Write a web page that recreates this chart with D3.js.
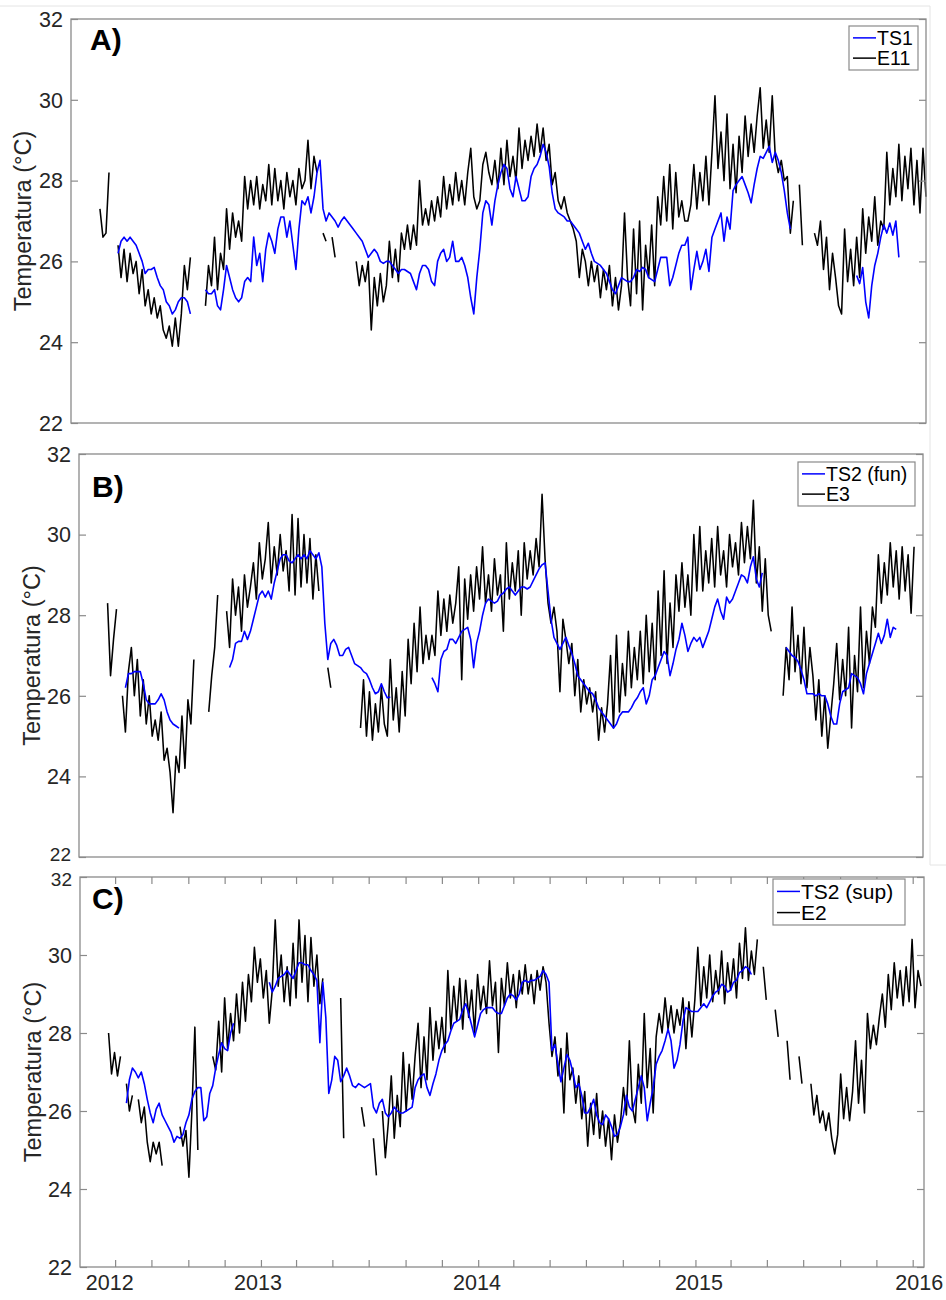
<!DOCTYPE html>
<html>
<head>
<meta charset="utf-8">
<script src="https://cdn.jsdelivr.net/npm/d3@7"></script>
<style>
  html, body { margin: 0; padding: 0; background: #fff; }
  svg { display: block; font-family: "Liberation Sans", Arial, Helvetica, sans-serif; }
</style>
</head>
<body>
<svg id="chart" width="946" height="1300"></svg>
<script>
// Daily-averaged temperature records, one value every STEP_DAYS from SERIES_START; null = no data
const SERIES_START = "2012-04-20";
const STEP_DAYS = 5;
const TIME_DOMAIN = ["2012-03-03", "2016-01-20"];
const gap = n => Array(n).fill(null);

// Panel A: station E11 and satellite series TS1
const e11 = [27.3,26.6,26.7,28.2,null,null,26.4,25.6,26.3,25.5,
  26.2,25.7,26.0,25.2,25.8,24.9,25.3,24.7,25.1,24.6,
  24.9,24.3,24.1,24.4,23.9,24.6,23.9,24.7,25.9,25.3,
  26.1,null,null,null,null,24.9,25.9,25.4,26.6,25.3,
  26.2,25.8,27.3,26.3,27.2,26.6,27.0,26.5,28.1,27.3,
  28.0,27.4,28.1,27.3,27.9,27.5,28.4,27.4,28.3,27.5,
  28.0,27.3,28.2,27.6,28.0,27.4,28.3,27.8,28.0,29.0,
  27.8,28.6,28.2,null,26.7,26.5,null,26.6,26.1,null,
  null,null,null,null,null,26.0,25.4,25.9,25.5,26.0,
  24.3,25.6,24.9,25.7,25.0,25.4,26.5,25.6,26.3,25.5,
  26.7,26.3,26.9,26.3,26.9,26.4,28.0,26.9,27.3,26.9,
  27.5,27.0,27.6,27.1,28.1,27.3,27.9,27.4,28.2,27.5,
  28.0,27.4,28.2,28.8,27.6,27.3,27.5,28.4,28.7,28.2,
  27.9,28.5,27.8,28.8,27.9,29.0,28.1,28.6,28.0,29.3,
  28.3,29.0,28.5,29.1,28.6,29.4,28.7,29.3,28.5,28.9,
  27.9,28.2,27.5,27.3,27.6,27.2,27.0,26.8,26.5,25.6,
  26.3,26.0,25.4,26.0,25.5,25.9,25.1,25.8,25.3,25.9,
  24.9,25.6,24.8,25.4,27.2,25.6,24.9,26.8,25.2,27.0,
  24.8,26.4,25.6,26.9,25.4,27.6,26.9,28.1,27.0,28.4,
  26.8,28.2,27.1,27.5,27.0,27.0,27.4,28.4,27.3,28.2,
  27.5,28.6,27.4,28.7,30.1,28.3,29.2,28.0,29.65,27.8,
  28.9,27.7,29.1,28.2,29.6,28.6,29.4,28.7,29.6,30.3,
  28.8,29.5,28.7,30.1,28.6,28.2,28.5,28.0,28.1,26.7,
  27.5,null,27.9,26.4,null,null,null,26.7,26.4,27.0,
  25.8,26.6,25.3,26.2,25.6,24.9,24.7,26.8,25.5,26.3,
  25.4,26.6,25.6,27.3,26.2,27.1,26.5,27.6,26.4,27.0,
  26.8,28.7,27.4,28.3,27.6,28.9,27.5,28.6,27.8,28.8,
  27.4,28.5,27.2,28.8,27.6];

const ts1 = [...gap(6),26.2,26.5,26.6,26.5,
  26.6,26.5,26.4,26.2,26.0,25.7,25.8,25.8,25.85,25.6,
  25.4,25.3,25.0,24.9,24.7,24.8,25.0,25.1,25.1,25.0,
  24.7,null,null,null,null,25.3,25.2,25.2,25.3,24.9,
  24.8,25.3,25.9,25.6,25.3,25.1,25.0,25.1,25.5,25.6,
  25.5,26.6,25.9,26.2,25.5,26.3,26.7,26.5,26.2,26.8,
  27.1,27.1,26.6,27.0,26.4,25.8,26.8,27.5,27.4,27.6,
  27.2,27.6,28.2,28.5,27.3,27.0,27.2,27.1,27.0,26.85,
  27.0,27.1,27.0,26.9,26.8,26.7,26.6,26.5,26.3,26.1,
  26.2,26.3,26.2,26.0,25.95,26.0,26.0,25.9,25.8,25.7,
  25.8,25.8,25.75,25.7,25.5,25.3,25.7,25.9,25.9,25.8,
  25.5,25.4,26.0,26.2,26.3,26.0,26.1,26.5,26.0,26.0,
  26.1,25.9,25.6,25.1,24.7,25.6,26.3,27.2,27.5,27.4,
  26.9,27.5,27.9,28.2,28.4,28.3,27.8,27.6,28.1,27.8,
  27.5,27.5,27.6,28.1,28.3,28.4,28.6,28.9,28.7,28.35,
  27.7,27.3,27.2,27.15,27.1,27.0,27.0,26.9,26.8,26.7,
  26.5,26.3,26.45,26.2,26.0,25.95,25.9,25.8,25.7,25.5,
  25.3,25.2,25.4,25.6,25.55,25.5,25.5,25.6,25.8,25.75,
  25.85,25.8,25.6,25.55,25.5,25.8,26.1,26.1,26.1,25.4,
  25.6,25.9,26.2,26.4,26.4,26.6,25.3,25.8,26.25,25.8,
  26.0,26.3,25.75,26.6,26.8,27.0,27.2,26.5,27.1,26.8,
  27.75,27.9,28.0,28.1,27.9,27.7,27.45,27.9,28.3,28.6,
  28.55,28.7,28.85,28.45,28.7,28.5,28.2,27.75,27.2,26.8,
  ...gap(21),25.65,25.45,25.85,25.0,24.6,25.4,25.9,26.2,26.6,
  26.9,26.7,26.95,26.65,27.0,26.1];

// Panel B: station E3 and bottom satellite series TS2 (fun)
const e3 = [28.3,26.5,27.4,28.15,null,26.0,25.1,26.6,27.2,26.0,
  26.9,25.5,26.4,25.3,26.0,25.0,25.4,24.9,25.6,24.4,
  24.7,24.1,23.1,24.5,24.1,25.5,24.2,25.9,25.3,26.9,
  null,null,null,null,25.6,26.5,27.2,28.5,null,null,
  28.1,27.2,28.9,28.0,28.7,27.6,29.0,28.2,28.7,29.3,
  28.4,29.8,28.9,29.4,30.3,28.8,29.7,29.0,30.0,29.1,
  29.6,28.6,30.5,28.5,30.4,28.7,30.0,28.8,29.9,28.4,
  29.5,28.6,null,null,26.7,26.2,...gap(9),
  25.2,26.4,25.0,26.1,24.9,
  25.8,25.1,26.2,25.3,25.0,26.9,25.4,26.2,25.1,26.6,
  25.5,27.4,26.3,27.8,26.6,28.2,26.8,27.5,26.9,27.5,
  27.0,28.6,27.5,28.4,27.6,28.5,27.8,28.3,29.2,26.4,
  28.9,27.9,29.0,28.1,29.2,28.4,29.7,28.3,29.0,28.1,
  29.4,28.5,29.0,27.6,29.8,28.4,29.3,28.6,29.6,28.0,
  29.8,28.9,29.6,29.0,29.9,29.2,31.0,29.4,28.3,27.8,
  28.2,27.6,26.1,27.9,27.4,26.8,27.3,26.0,26.9,25.6,
  26.4,25.8,26.2,25.6,26.1,24.9,25.7,25.1,25.8,27.0,
  25.2,27.5,25.6,26.8,26.0,27.6,26.2,27.2,26.4,27.6,
  26.3,28.0,26.6,27.8,26.4,28.6,27.0,29.1,26.8,28.3,
  27.2,29.0,28.1,29.3,28.2,29.0,28.0,30.0,28.6,30.2,
  28.6,29.6,28.8,29.9,28.7,30.2,29.0,29.6,28.7,30.0,
  29.2,29.8,29.0,30.3,29.3,30.2,29.4,30.85,28.8,29.7,
  28.1,29.4,28.0,27.6,null,null,null,26.0,27.2,26.4,
  28.2,26.6,27.5,26.3,27.7,26.2,27.2,26.5,25.4,26.4,
  25.0,26.0,24.7,25.5,26.3,27.3,25.9,26.9,26.0,27.7,
  25.2,27.0,26.1,28.2,26.2,27.6,26.8,28.2,27.7,29.5,
  28.3,29.3,28.5,29.8,28.7,29.6,28.4,29.7,28.6,29.5,
  28.05,29.7];

const ts2fun = [...gap(6),26.2,26.55,26.55,26.6,
  26.6,26.6,26.3,25.9,25.8,25.8,25.8,25.9,26.05,25.9,
  25.6,25.4,25.3,25.25,25.2,...gap(16),
  26.7,26.9,27.3,27.35,27.35,27.6,27.4,27.6,27.9,
  28.2,28.5,28.6,28.45,28.6,28.4,28.8,29.1,29.4,29.5,
  29.5,29.35,29.3,29.4,29.5,29.4,29.5,29.4,29.6,29.5,
  29.4,29.55,29.2,27.8,26.9,27.3,27.4,27.25,27.0,27.0,
  27.15,27.2,27.0,26.8,26.75,26.7,26.6,26.55,26.4,26.2,
  26.05,26.1,26.3,26.1,25.95,25.97,...gap(13),
  26.45,
  26.3,26.1,26.9,27.1,27.15,27.4,27.4,27.3,27.45,27.6,
  27.65,27.7,27.4,26.7,27.3,27.6,28.0,28.3,28.4,28.35,
  28.3,28.35,28.5,28.55,28.65,28.7,28.6,28.5,28.6,28.7,
  28.7,28.65,28.7,28.85,29.0,29.15,29.25,29.3,28.6,27.9,
  27.45,27.3,27.15,27.3,27.45,27.25,27.05,26.8,26.5,26.4,
  26.3,26.2,26.1,26.05,25.9,25.7,25.6,25.5,25.4,25.3,
  25.2,25.3,25.5,25.6,25.6,25.6,25.7,25.85,25.95,26.1,
  26.2,25.8,26.0,26.4,26.5,26.7,26.9,27.1,27.0,26.5,
  26.8,27.15,27.4,27.8,27.5,27.1,27.3,27.45,27.35,27.45,
  27.2,27.4,27.6,27.9,28.2,28.4,28.1,27.9,28.45,28.3,
  28.4,28.6,28.8,29.0,28.95,28.8,29.2,29.45,28.9,28.7,
  29.05,...gap(7),27.2,27.1,
  27.0,26.95,26.85,26.65,26.4,26.05,26.05,26.05,26.0,26.05,
  26.0,26.0,25.8,25.5,25.3,25.3,25.8,26.1,26.15,26.2,
  26.55,26.5,26.45,26.3,26.05,26.55,26.8,27.05,27.3,27.55,
  27.3,27.5,27.9,27.45,27.7,27.65];

// Panel C: station E2 and surface satellite series TS2 (sup)
const e2 = [28.0,26.95,27.5,26.9,27.4,null,26.7,26.0,26.4,null,
  26.3,25.7,26.1,25.2,24.7,25.2,24.9,25.2,24.6,null,
  null,null,null,null,25.6,25.1,25.5,24.3,26.0,28.15,
  25.0,null,null,null,null,27.4,27.05,28.3,27.0,28.9,
  27.6,28.5,27.8,29.0,28.0,29.3,28.3,29.5,28.8,30.2,
  29.3,29.9,28.9,29.6,28.25,29.1,30.9,29.2,30.0,28.8,
  29.7,28.7,30.3,28.9,30.9,29.3,30.5,28.8,30.45,29.2,
  30.0,28.75,29.4,null,null,null,null,null,28.9,25.3,
  null,null,null,null,null,26.1,25.6,null,null,25.3,
  24.35,null,26.0,24.8,25.7,26.9,25.3,26.4,25.6,27.5,
  26.0,27.2,26.3,27.4,28.25,26.6,27.9,26.8,28.65,27.3,
  28.3,27.6,28.4,27.5,29.6,28.1,29.2,28.3,29.4,28.1,
  29.35,28.4,29.1,28.0,29.5,28.6,29.2,28.5,29.85,28.7,
  29.3,27.5,29.4,28.7,29.8,28.9,29.5,28.65,29.6,29.0,
  29.75,29.0,29.5,28.75,29.6,29.1,29.7,29.3,28.25,27.4,
  27.9,26.9,27.6,25.95,28.0,26.8,27.1,26.2,26.9,25.8,
  26.5,25.1,26.2,25.4,26.45,25.3,26.0,25.1,25.8,24.75,
  25.9,25.2,25.7,26.6,25.9,27.8,26.1,25.7,27.2,26.2,
  28.5,26.6,27.6,25.95,27.9,28.5,28.0,28.9,28.1,28.7,
  28.0,28.6,28.2,28.9,27.6,28.8,27.9,28.85,30.2,28.7,
  29.7,28.9,30.0,28.8,29.6,29.0,30.1,28.75,29.8,29.1,
  29.9,28.9,30.3,29.4,30.7,29.35,30.1,29.5,30.4,null,
  29.7,28.85,null,null,28.6,27.9,null,null,27.8,26.8,
  null,null,27.4,26.7,null,null,26.7,25.9,26.4,25.7,
  26.0,25.5,25.95,25.3,24.9,25.4,26.95,25.8,26.6,25.75,
  26.5,27.8,26.2,27.3,25.95,28.5,27.6,28.2,27.7,28.4,
  29.0,28.15,29.5,28.6,29.8,28.9,29.6,28.7,29.7,28.8,
  30.4,28.65,29.6,29.2];

const ts2sup = [...gap(6),26.2,26.8,27.1,27.0,
  26.85,27.0,26.7,26.3,25.95,25.7,26.05,26.2,25.9,25.75,
  25.6,25.45,25.2,25.35,25.3,25.4,25.7,25.9,26.3,26.5,
  26.6,26.6,25.75,25.85,26.45,26.65,27.1,27.45,27.75,27.6,
  27.55,28.0,28.25,...gap(11),
  29.3,29.05,29.2,29.4,29.45,29.5,
  29.6,29.5,29.4,29.6,29.8,29.8,29.75,29.75,29.6,29.5,
  29.35,27.75,29.3,28.4,26.45,26.8,27.4,27.3,26.75,26.9,
  27.1,26.9,26.65,26.6,26.7,26.65,26.6,26.65,26.7,26.1,
  25.95,26.2,26.3,25.95,25.85,25.95,26.1,26.0,25.95,25.95,
  26.0,26.05,26.1,26.6,26.8,26.9,26.95,26.6,26.4,26.7,
  26.95,27.3,27.55,27.7,27.8,28.05,28.25,28.3,28.35,28.6,
  28.75,28.5,28.2,27.9,28.2,28.5,28.6,28.65,28.65,28.65,
  28.55,28.5,28.5,28.7,28.9,29.0,28.95,28.85,29.0,29.3,
  29.35,29.3,29.35,29.35,29.4,29.45,29.6,29.5,29.3,27.55,
  27.7,27.2,26.75,27.1,27.45,27.3,27.0,26.6,26.7,26.4,
  25.95,25.95,26.1,26.3,25.9,25.7,25.65,25.9,25.8,25.6,
  25.35,25.4,25.6,25.9,26.4,26.1,26.0,26.3,26.6,26.9,
  26.6,25.75,26.2,26.6,27.2,27.4,27.55,27.8,28.1,27.8,
  27.1,27.3,27.7,28.3,28.65,28.6,28.55,28.55,28.55,28.65,
  28.75,28.65,28.8,28.95,29.05,29.1,29.25,29.2,29.05,29.1,
  29.3,29.35,29.55,29.6,29.7,29.65,29.5];

// Axis ticks and labels
const yTicks = [22, 24, 26, 28, 30, 32];
const yearLabels = ["2012", "2013", "2014", "2015", "2016"];
const yearLabelDates = ["2012-04-22", "2012-12-27", "2013-12-30", "2015-01-07", "2016-01-12"];
const yTitle = "Temperatura (°C)";

const parse = d3.utcParse("%Y-%m-%d");
const start = parse(SERIES_START);
const toPoints = arr => arr.map((v, i) => ({ date: d3.utcDay.offset(start, i * STEP_DAYS), value: v }));

const BLUE = "#0000ff";
const BLACK = "#000000";
const FRAME = "#8a8a8a";
const TEXT = "#262626";

// labelTweak: panels are stacked tightly, so the touching end labels are set a little smaller
const panels = [
  { tag: "A)", names: ["TS1", "E11"], blue: ts1, black: e11,
    frame: { left: 71, right: 926, top: 19, bottom: 423 },
    tagPos: [90, 50], titleX: 23, labelTweak: {},
    legend: { x: 849, y: 26, w: 69, h: 44, font: 19.5 }, xAxis: false },
  { tag: "B)", names: ["TS2 (fun)", "E3"], blue: ts2fun, black: e3,
    frame: { left: 79, right: 923, top: 454, bottom: 857 },
    tagPos: [92, 497], titleX: 32, labelTweak: { 22: { dy: -2.5, size: 19 } },
    legend: { x: 798, y: 462, w: 117, h: 44, font: 19.5 }, xAxis: false },
  { tag: "C)", names: ["TS2 (sup)", "E2"], blue: ts2sup, black: e2,
    frame: { left: 80, right: 924, top: 877, bottom: 1267 },
    tagPos: [92, 909], titleX: 33, labelTweak: { 32: { dy: 2, size: 19 } },
    legend: { x: 773, y: 879, w: 132, h: 46, font: 21 }, xAxis: true }
];

const svg = d3.select("#chart");
svg.append("rect").attr("width", 946).attr("height", 1300).attr("fill", "#fff");

// faint outline of the upper figure sheet
svg.append("path")
  .attr("d", "M0,6H930V865H946")
  .attr("fill", "none").attr("stroke", "#e4e4e4").attr("stroke-width", 1);

const domain = TIME_DOMAIN.map(parse);

panels.forEach(p => {
  const f = p.frame;
  const x = d3.scaleUtc().domain(domain).range([f.left, f.right]);
  const y = d3.scaleLinear().domain([22, 32]).range([f.bottom, f.top]);
  const g = svg.append("g");

  const line = d3.line()
    .defined(d => d.value != null)
    .x(d => x(d.date))
    .y(d => y(d.value));

  g.append("path").datum(toPoints(p.black))
    .attr("d", line).attr("fill", "none")
    .attr("stroke", BLACK).attr("stroke-width", 1.55).attr("stroke-linejoin", "round");
  g.append("path").datum(toPoints(p.blue))
    .attr("d", line).attr("fill", "none")
    .attr("stroke", BLUE).attr("stroke-width", 1.6).attr("stroke-linejoin", "round");

  // frame
  g.append("rect")
    .attr("x", f.left).attr("y", f.top)
    .attr("width", f.right - f.left).attr("height", f.bottom - f.top)
    .attr("fill", "none").attr("stroke", FRAME).attr("stroke-width", 1.3);

  // y ticks (inward on both sides) and labels
  const yAxisL = d3.axisLeft(y).tickValues(yTicks).tickSize(-7).tickFormat("");
  const yAxisR = d3.axisRight(y).tickValues(yTicks).tickSize(-7).tickFormat("");
  [g.append("g").attr("transform", `translate(${f.left},0)`).call(yAxisL),
   g.append("g").attr("transform", `translate(${f.right},0)`).call(yAxisR)].forEach(a => {
    a.select(".domain").remove();
    a.selectAll("line").attr("stroke", FRAME).attr("stroke-width", 1.2);
  });
  g.selectAll(".ylab").data(yTicks).join("text")
    .attr("x", f.left - 8)
    .attr("y", d => y(d) + ((p.labelTweak[d] || {}).dy || 0))
    .attr("dy", "0.36em")
    .attr("text-anchor", "end")
    .attr("font-size", d => (p.labelTweak[d] || {}).size || 21.5)
    .attr("fill", TEXT)
    .text(d => d);

  // y title
  const cy = (f.top + f.bottom) / 2;
  g.append("text")
    .attr("transform", `translate(${p.titleX},${cy}) rotate(-90)`)
    .attr("text-anchor", "middle").attr("dy", "0.36em")
    .attr("font-size", 23.5).attr("fill", TEXT)
    .text(yTitle);

  // panel tag
  g.append("text").attr("x", p.tagPos[0]).attr("y", p.tagPos[1])
    .attr("font-size", 30).attr("font-weight", "bold").attr("fill", BLACK)
    .text(p.tag);

  // x axis with two-month ticks, only on the lowest panel
  if (p.xAxis) {
    const tickMonths = d3.utcMonth.every(2);
    const xb = d3.axisBottom(x).ticks(tickMonths).tickSize(-7).tickFormat("");
    const xt = d3.axisTop(x).ticks(tickMonths).tickSize(-7).tickFormat("");
    [g.append("g").attr("transform", `translate(0,${f.bottom})`).call(xb),
     g.append("g").attr("transform", `translate(0,${f.top})`).call(xt)].forEach(a => {
      a.select(".domain").remove();
      a.selectAll("line").attr("stroke", FRAME).attr("stroke-width", 1.2);
    });
    g.selectAll(".xlab").data(yearLabels).join("text")
      .attr("x", (d, i) => x(parse(yearLabelDates[i])))
      .attr("y", 1290)
      .attr("text-anchor", "middle").attr("font-size", 21.5).attr("fill", TEXT)
      .text(d => d);
  }

  // legend
  const L = p.legend;
  const lg = g.append("g");
  lg.append("rect").attr("x", L.x).attr("y", L.y).attr("width", L.w).attr("height", L.h)
    .attr("fill", "#fff").attr("stroke", FRAME).attr("stroke-width", 1.2);
  const rows = [
    { name: p.names[0], color: BLUE, yy: L.y + L.h * 0.27 },
    { name: p.names[1], color: BLACK, yy: L.y + L.h * 0.73 }
  ];
  rows.forEach(r => {
    lg.append("line").attr("x1", L.x + 4).attr("x2", L.x + 27)
      .attr("y1", r.yy).attr("y2", r.yy)
      .attr("stroke", r.color).attr("stroke-width", 1.5);
    lg.append("text").attr("x", L.x + 28).attr("y", r.yy).attr("dy", "0.36em")
      .attr("font-size", L.font).attr("fill", BLACK).text(r.name);
  });
});
</script>
</body>
</html>
